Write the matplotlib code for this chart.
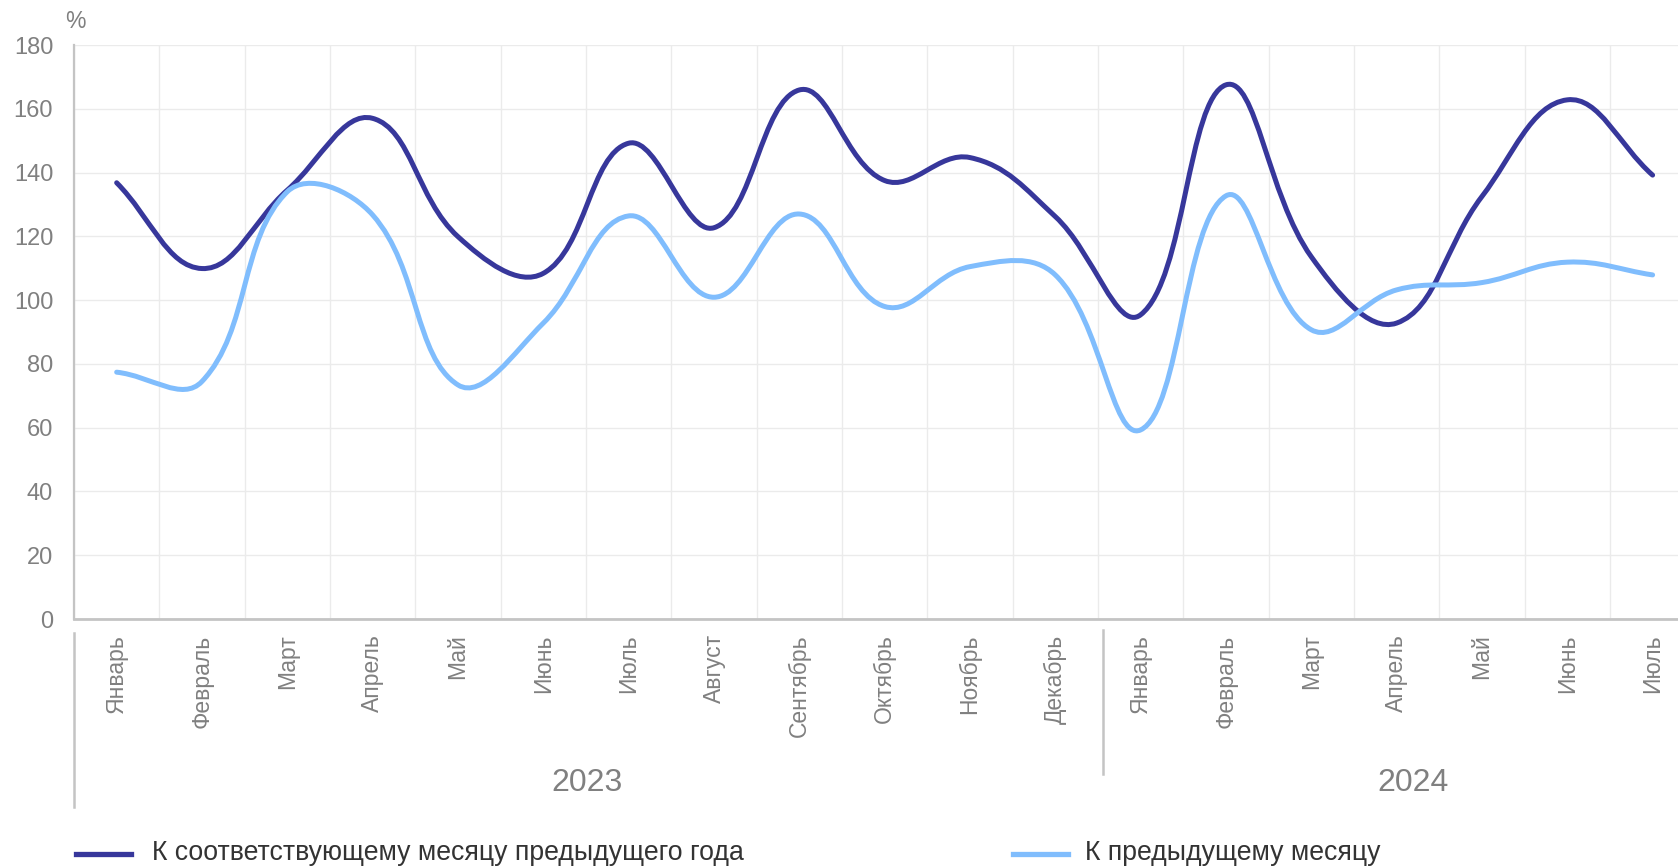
import numpy as np
import matplotlib
matplotlib.use("Agg")
import matplotlib.pyplot as plt
from matplotlib.path import Path
from matplotlib.patches import PathPatch
from matplotlib.lines import Line2D
from matplotlib import font_manager as fm

# --- data ---------------------------------------------------------------
months = ["Январь", "Февраль", "Март", "Апрель", "Май", "Июнь", "Июль",
          "Август", "Сентябрь", "Октябрь", "Ноябрь", "Декабрь",
          "Январь", "Февраль", "Март", "Апрель", "Май", "Июнь", "Июль"]
years = ["2023", "2024"]
yoy = [136.8, 109.9, 134.5, 157.0, 119.9, 108.4, 149.2, 122.7, 165.9, 137.5,
       144.7, 126.2, 95.4, 167.5, 113.6, 92.8, 132.5, 162.8, 139.2]
mom = [77.4, 74.5, 134.0, 126.7, 73.4, 92.8, 126.4, 100.9, 127.0, 98.0,
       110.5, 107.9, 59.3, 132.7, 90.7, 103.2, 105.5, 111.9, 107.9]
series_names = ["К соответствующему месяцу предыдущего года", "К предыдущему месяцу"]
y_ticks = [0, 20, 40, 60, 80, 100, 120, 140, 160, 180]

DARK = "#37379b"
LIGHT = "#80bdfd"
GRAY = "#808080"
W, H = 1678, 868

names = {f.name for f in fm.fontManager.ttflist}
base = "Liberation Sans" if "Liberation Sans" in names else "DejaVu Sans"
narrow = "Liberation Sans Narrow" if "Liberation Sans Narrow" in names else base
leg_size = 21 if narrow != base else 19.2
plt.rcParams['font.family'] = [base, 'DejaVu Sans']

fig = plt.figure(figsize=(W / 100, H / 100), dpi=100)
fig.patch.set_facecolor("white")
n = len(months)
cat_w = 85.33
ax = fig.add_axes([74 / W, 1 - 619 / H, n * cat_w / W, (619 - 45) / H])
ax.set_xlim(-0.5, n - 0.5)
ax.set_ylim(0, 180)

# grid
ax.set_yticks(y_ticks)
ax.set_xticks(np.arange(n))
ax.set_xticks(np.arange(n + 1) - 0.5, minor=True)
ax.grid(True, axis='y', which='major', color='#ebebeb', lw=1.0)
ax.grid(True, axis='x', which='minor', color='#ebebeb', lw=1.0)
ax.set_axisbelow(True)
for s in ['top', 'right']:
    ax.spines[s].set_visible(False)
ax.spines['left'].set_color('#c4c4c4')
ax.spines['left'].set_linewidth(1.6)
ax.spines['bottom'].set_color('#c4c4c4')
ax.spines['bottom'].set_linewidth(2.0)
ax.tick_params(axis='y', length=0, pad=15, labelsize=17, labelcolor=GRAY)
ax.tick_params(axis='x', which='both', length=0, pad=11, labelsize=16.5, labelcolor=GRAY)
ax.set_xticklabels(months, rotation=90, va='top', ha='center')


def smooth_line(vals, color):
    # bezier through points, tension like Chart.js (0.4), computed in pixel space
    t = 0.4
    xy = ax.transData.transform(np.column_stack([np.arange(len(vals)), vals]))
    cps_prev, cps_next = [], []
    for i in range(len(xy)):
        p0 = xy[max(i - 1, 0)]
        p1 = xy[i]
        p2 = xy[min(i + 1, len(xy) - 1)]
        d01 = np.hypot(*(p1 - p0))
        d12 = np.hypot(*(p2 - p1))
        tot = d01 + d12
        s01 = d01 / tot if tot else 0
        s12 = d12 / tot if tot else 0
        cps_prev.append(p1 - t * s01 * (p2 - p0))
        cps_next.append(p1 + t * s12 * (p2 - p0))
    verts = [xy[0]]
    codes = [Path.MOVETO]
    for i in range(len(xy) - 1):
        verts += [cps_next[i], cps_prev[i + 1], xy[i + 1]]
        codes += [Path.CURVE4] * 3
    verts = ax.transData.inverted().transform(np.array(verts))
    patch = PathPatch(Path(verts, codes), facecolor='none', edgecolor=color,
                      lw=3.6, capstyle='round', joinstyle='round', zorder=3)
    ax.add_patch(patch)


smooth_line(yoy, DARK)
smooth_line(mom, LIGHT)

# "%" unit
fig.text(75 / W, 1 - 22 / H, "%", fontsize=16.5, color=GRAY, ha='center', va='center')

# year groups
sep_lines = [(74, 633, 807), (1103, 630, 774)]
for x, y0, y1 in sep_lines:
    fig.add_artist(Line2D([x / W, x / W], [1 - y0 / H, 1 - y1 / H],
                          color='#c4c4c4', lw=1.8))
year_x = [586.7, 1413]
for yr, x in zip(years, year_x):
    fig.text(x / W, 1 - 783 / H, yr, fontsize=23, color=GRAY, ha='center', va='center')

# legend
leg = [(75.6, 131.4, 152, DARK), (1012.7, 1068.3, 1085, LIGHT)]
for (x0, x1, tx, c), name in zip(leg, series_names):
    fig.add_artist(Line2D([x0 / W, x1 / W], [1 - 853.5 / H] * 2, color=c, lw=3.8))
    fig.text(tx / W, 1 - 853 / H, name, fontsize=leg_size, color='#333333',
             family=[narrow, 'DejaVu Sans'], ha='left', va='center')

fig.savefig("out.png", dpi=100, facecolor='white')
